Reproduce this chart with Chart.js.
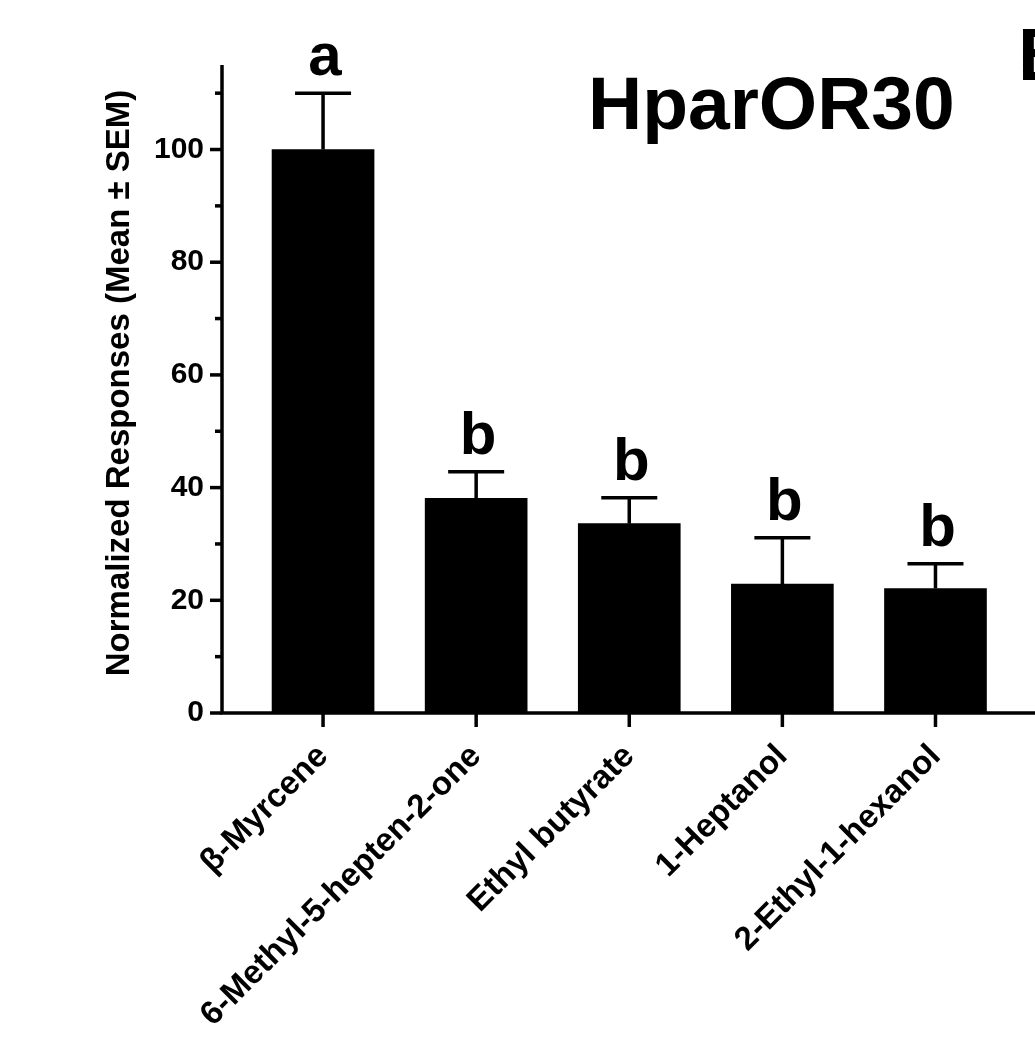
<!DOCTYPE html>
<html>
<head>
<meta charset="utf-8">
<script src="https://cdn.jsdelivr.net/npm/chart.js@4"></script>
<style>
  html, body { margin: 0; padding: 0; background: #fff; overflow: hidden; }
  #wrap { width: 1035px; height: 1051px; position: relative; }
</style>
</head>
<body>
<div id="wrap"><canvas id="chart" width="1035" height="1051"></canvas></div>
<script>
const odorants = ['β-Myrcene', '6-Methyl-5-hepten-2-one', 'Ethyl butyrate', '1-Heptanol', '2-Ethyl-1-hexanol'];
const means = [100, 38.1, 33.6, 22.9, 22.1];
const sems = [10, 4.7, 4.6, 8.2, 4.4];
const groups = ['a', 'b', 'b', 'b', 'b'];
const yTicks = [0, 20, 40, 60, 80, 100];

const FONT = '"Liberation Sans", Arial, sans-serif';

// barres d'erreur, lettres, titre
const extras = {
  id: 'extras',
  afterDatasetsDraw(chart) {
    const c = chart.ctx, x = chart.scales.x, y = chart.scales.y;
    c.save();
    c.strokeStyle = '#000';
    c.fillStyle = '#000';
    c.lineWidth = 3.5;
    means.forEach((m, i) => {
      const cx = x.getPixelForValue(i);
      const top = y.getPixelForValue(m + sems[i]);
      c.beginPath();
      c.moveTo(cx, y.getPixelForValue(m));
      c.lineTo(cx, top);
      c.moveTo(cx - 28, top);
      c.lineTo(cx + 28, top);
      c.stroke();
      c.font = 'bold 60px ' + FONT;
      c.textAlign = 'center';
      c.textBaseline = 'alphabetic';
      c.fillText(groups[i], cx + 2, top - 18);
    });
    c.font = 'bold 75px ' + FONT;
    c.textAlign = 'left';
    c.fillText('HparOR30', 588, 129);
    c.fillText('B', 1018, 80);

    // titre axe y
    c.save();
    c.translate(120, 383);
    c.rotate(-Math.PI / 2);
    c.font = 'bold 33px ' + FONT;
    c.textAlign = 'center';
    c.textBaseline = 'middle';
    c.fillText('Normalized Responses (Mean ± SEM)', 0, 0);
    c.restore();

    // axes
    c.beginPath();
    c.moveTo(chart.chartArea.left, chart.chartArea.top);
    c.lineTo(chart.chartArea.left, chart.chartArea.bottom);
    c.lineTo(chart.chartArea.right, chart.chartArea.bottom);
    c.stroke();
    for (let v = 0; v <= 110; v += 10) {
      const py = y.getPixelForValue(v);
      const len = v % 20 === 0 ? 12 : 7;
      c.beginPath();
      c.moveTo(chart.chartArea.left - len, py);
      c.lineTo(chart.chartArea.left, py);
      c.stroke();
    }
    means.forEach((m, i) => {
      const cx = x.getPixelForValue(i);
      c.beginPath();
      c.moveTo(cx, chart.chartArea.bottom);
      c.lineTo(cx, chart.chartArea.bottom + 14);
      c.stroke();
    });
    c.restore();
  }
};

new Chart(document.getElementById('chart'), {
  type: 'bar',
  data: {
    datasets: [{
      data: means.map((v, i) => ({ x: i, y: v })),
      backgroundColor: '#000',
      barThickness: 102
    }]
  },
  options: {
    responsive: false,
    animation: false,
    layout: { padding: { top: 65, right: 0, left: 0, bottom: 0 } },
    plugins: { legend: { display: false }, tooltip: { enabled: false } },
    scales: {
      x: {
        type: 'linear',
        offset: false,
        min: -0.66,
        max: 4.65,
        afterFit: s => { s.height = 1051 - 65 - 648; },
        afterBuildTicks: s => { s.ticks = odorants.map((_, i) => ({ value: i })); },
        grid: { display: false, drawTicks: false, offset: false },
        border: { display: false },
        ticks: {
          callback: v => odorants[v],
          minRotation: 45,
          maxRotation: 45,
          padding: 24,
          color: '#000',
          font: { family: FONT, size: 33, weight: 'bold' }
        }
      },
      y: {
        min: 0,
        max: 115,
        afterFit: s => { s.width = 222; },
        afterBuildTicks: s => { s.ticks = yTicks.map(v => ({ value: v })); },
        grid: { display: false, drawTicks: false },
        border: { display: false },
        ticks: {
          padding: 18,
          color: '#000',
          font: { family: FONT, size: 30, weight: 'bold' }
        }
      }
    }
  },
  plugins: [extras]
});
</script>
</body>
</html>
